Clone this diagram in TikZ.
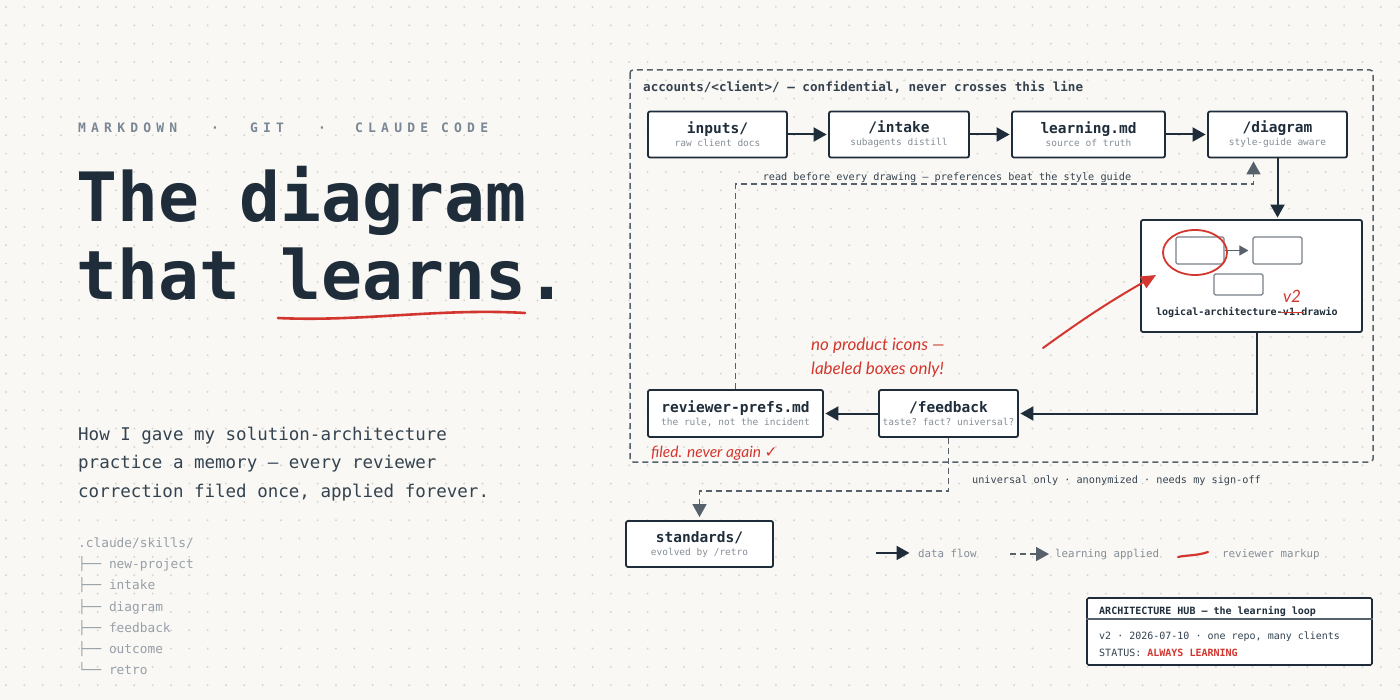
\documentclass[tikz,border=0pt]{standalone}
\usepackage{fontspec}
\setmonofont{DejaVu Sans Mono}
\newfontfamily\trackfont[LetterSpace=40]{DejaVu Sans Mono}
\newfontfamily\handfont{Lato}
\newfontfamily\symfont{DejaVu Sans}
\usetikzlibrary{arrows.meta,positioning,calc}
\definecolor{ink}{HTML}{1F2D3A}
\definecolor{slate}{HTML}{56616C}
\definecolor{muted}{HTML}{858E97}
\definecolor{kick}{HTML}{7A8794}
\definecolor{lead}{HTML}{34434F}
\definecolor{paper}{HTML}{F9F8F5}
\definecolor{dotc}{HTML}{D6D6D0}
\definecolor{markup}{HTML}{D3362E}
\newcommand{\boxlabel}[2]{{\fontsize{14.5}{17}\selectfont\bfseries #1}\\[1pt]{\fontsize{9.5}{11}\selectfont\color{muted}#2}}

\begin{document}
\begin{tikzpicture}[x=1pt,y=-1pt,
  filebox/.style={draw=ink,line width=1.8pt,fill=white,rounded corners=2pt,align=center,inner sep=0pt,minimum height=46pt,font=\ttfamily,text=ink},
  minibox/.style={draw=slate!80,line width=1.2pt,rounded corners=1.5pt,inner sep=0pt},
  flow/.style={draw=ink,line width=2pt,shorten >=1.5pt,-{Triangle[length=13pt,width=14pt]}},
  learn/.style={draw=slate,line width=1.6pt,dash pattern=on 6pt off 4pt,-{Triangle[length=13pt,width=14pt]}},
  frame/.style={draw=slate,line width=1.5pt,dash pattern=on 6pt off 4pt,rounded corners=3pt},
  kicker/.style={anchor=base west,inner sep=0pt,font=\trackfont\bfseries\fontsize{13}{15}\selectfont,text=kick},
  note/.style={inner sep=0pt,font=\ttfamily\fontsize{10.2}{12}\selectfont,text=lead},
  legend/.style={anchor=base west,inner sep=0pt,font=\ttfamily\fontsize{10.8}{12}\selectfont,text=muted},
  tree/.style={anchor=base west,inner sep=0pt,font=\ttfamily\fontsize{12.8}{15}\selectfont,text=muted!85},
  hand/.style={inner sep=0pt,font=\handfont\itshape\fontsize{17}{24}\selectfont,text=markup},
  fname/.style={inner sep=0pt,font=\ttfamily\bfseries\fontsize{10}{12}\selectfont,text=ink},
  markup/.style={draw=markup,line cap=round}]
\fill[paper] (0,0) rectangle (1400,700);
\clip (0,0) rectangle (1400,700);
\foreach \i in {0,...,76}
  \foreach \j in {0,...,38}
    \fill[dotc] (6+18.33*\i,7+18.33*\j) circle (1.1pt);

% left column
\node[kicker] (kwmd) at (78,133) {MARKDOWN};
\node[kicker] (kwdotA) at (211,133) {·};
\node[kicker] (kwgit) at (250,133) {GIT};
\node[kicker] (kwdotB) at (318,133) {·};
\node[kicker] (kwcc) at (355,133) {CLAUDE CODE};
\node[anchor=base west,inner sep=0pt,font=\ttfamily\bfseries\fontsize{68}{68}\selectfont,text=ink] (titleA) at (76,222) {The diagram};
\node[anchor=base west,inner sep=0pt,font=\ttfamily\bfseries\fontsize{68}{68}\selectfont,text=ink] (titleB) at (76,300) {that learns.};
\draw[markup,line width=2.6pt] (278,318) .. controls (360,322) and (440,308) .. (525,313);
\node[anchor=base west,inner sep=0pt,font=\ttfamily\fontsize{17.5}{28}\selectfont,text=lead] (leadA) at (78,440) {How I gave my solution-architecture};
\node[anchor=base west,inner sep=0pt,font=\ttfamily\fontsize{17.5}{28}\selectfont,text=lead] (leadB) at (78,468) {practice a memory — every reviewer};
\node[anchor=base west,inner sep=0pt,font=\ttfamily\fontsize{17.5}{28}\selectfont,text=lead] (leadC) at (78,497) {correction filed once, applied forever.};
\node[tree] (skills) at (78,547) {.claude/skills/};
\node[tree] (skA) at (78,568) {├── new-project};
\node[tree] (skB) at (78,589.5) {├── intake};
\node[tree] (skC) at (78,611) {├── diagram};
\node[tree] (skD) at (78,632) {├── feedback};
\node[tree] (skE) at (78,653) {├── outcome};
\node[tree] (skF) at (78,674) {└── retro};

% account boundary
\draw[frame] (630,70) rectangle (1373,462);
\node[anchor=base west,inner sep=0pt,font=\ttfamily\bfseries\fontsize{12.6}{14}\selectfont,text=ink!90] (scope) at (643,92) {accounts/<client>/ — confidential, never crosses this line};

\node[filebox,minimum width=139] (inputs) at (717.5,134.5) {\boxlabel{inputs/}{raw client docs}};
\node[filebox,minimum width=140] (intake) at (899,134.5) {\boxlabel{/intake}{subagents distill}};
\node[filebox,minimum width=153] (learning) at (1088.5,134.5) {\boxlabel{learning.md}{source of truth}};
\node[filebox,minimum width=139] (diagram) at (1277.5,134.5) {\boxlabel{/diagram}{style-guide aware}};
\node[filebox,minimum width=221,minimum height=112] (drawio) at (1251.5,276) {};
\node[filebox,minimum width=175,minimum height=47] (prefs) at (735.5,413.5) {\boxlabel{reviewer-prefs.md}{the rule, not the incident}};
\node[filebox,minimum width=139,minimum height=47] (feedback) at (948.5,413.5) {\boxlabel{/feedback}{taste? fact? universal?}};
\node[filebox,minimum width=147,minimum height=46] (standards) at (699.5,544) {\boxlabel{standards/}{evolved by /retro}};

\draw[flow] (inputs) -- (intake);
\draw[flow] (intake) -- (learning);
\draw[flow] (learning) -- (diagram);
\draw[flow] (diagram.south) -- (diagram.south |- drawio.north);
\draw[flow] ([xshift=5pt]drawio.south) |- (feedback.east);
\draw[flow] (feedback) -- (prefs);
\draw[learn] (prefs.north) -- ++(0,-205) -| ([xshift=-24pt,yshift=-3pt]diagram.south);
\draw[learn] (feedback.south) -- ++(0,53) -| ([yshift=3pt]standards.north);
\node[note,anchor=base] (readnote) at (947,181) {read before every drawing — preferences beat the style guide};
\node[note,anchor=base west] (rulenote) at (972,483) {universal only · anonymized · needs my sign-off};

% the drawing itself
\node[minibox,minimum width=48,minimum height=27] (mbA) at (1200,250.5) {};
\node[minibox,minimum width=49,minimum height=27] (mbB) at (1277.5,250.5) {};
\node[minibox,minimum width=49,minimum height=21] (mbC) at (1238.5,284.5) {};
\draw[slate,line width=1pt,-{Triangle[length=9pt,width=10pt]}] (mbA) -- ([xshift=-4pt]mbB.west);
\node[fname,anchor=base] (fnold) at (1289,316) {v1};
\node[fname,anchor=base east] (fnleft) at (fnold.base west) {logical-architecture-};
\node[fname,anchor=base west] (fnright) at (fnold.base east) {.drawio};
\draw[markup,line width=1.8pt] ([xshift=-1pt,yshift=3.5pt]fnold.base west) -- ([xshift=8pt,yshift=3.5pt]fnold.base east);
\node[hand,anchor=base] (fnnew) at (1292,303) {v2};
\draw[markup,line width=1.8pt] (1195,252.5) ellipse [x radius=32pt,y radius=22.5pt];

% reviewer markup
\coordinate (redtail) at (1043,348);
\coordinate (redhead) at (1156,275);
\draw[markup,line width=2pt,-{Triangle[length=15pt,width=13pt]}] (redtail) to[bend left=3] (redhead);
\node[hand,anchor=north west,align=left] (iconnote) at (811,338) {no product icons —\\labeled boxes only!};
\node[hand,anchor=base west,font=\handfont\itshape\fontsize{15.5}{18}\selectfont] (filednote) at (651,457) {filed. never again {\symfont ✓}};

% legend
\node[legend] (lgflow) at (918,557) {data flow};
\draw[flow] ([xshift=-42pt]lgflow.west) -- ([xshift=-7pt]lgflow.west);
\node[legend] (lglearn) at (1055,557) {learning applied};
\draw[learn] ([xshift=-45pt]lglearn.west) -- ([xshift=-6pt]lglearn.west);
\node[legend] (lgmark) at (1222,557) {reviewer markup};
\draw[markup,line width=2.2pt] ([xshift=-44pt,yshift=-3pt]lgmark.west) .. controls ([xshift=-36pt,yshift=-1pt]lgmark.west) and ([xshift=-26pt,yshift=-2pt]lgmark.west) .. ([xshift=-14pt,yshift=2pt]lgmark.west);

% title block
\node[draw=ink,line width=1.6pt,fill=white,rounded corners=1.5pt,minimum width=285,minimum height=67,inner sep=0pt] (hub) at (1229.5,631.5) {};
\draw[slate,line width=2pt] ([yshift=-22pt]hub.north west) -- ([yshift=-22pt]hub.north east);
\node[anchor=base west,inner sep=0pt,font=\ttfamily\bfseries\fontsize{10}{12}\selectfont,text=ink] (hubtitle) at (1099,614) {ARCHITECTURE HUB — the learning loop};
\node[anchor=base west,inner sep=0pt,font=\ttfamily\fontsize{10}{12}\selectfont,text=lead] (hubmeta) at (1099,639) {v2 · 2026-07-10 · one repo, many clients};
\node[anchor=base west,inner sep=0pt,font=\ttfamily\fontsize{10}{12}\selectfont,text=lead] (hubstatus) at (1099,656) {STATUS: {\bfseries\color{markup}ALWAYS LEARNING}};
\end{tikzpicture}
\end{document}
